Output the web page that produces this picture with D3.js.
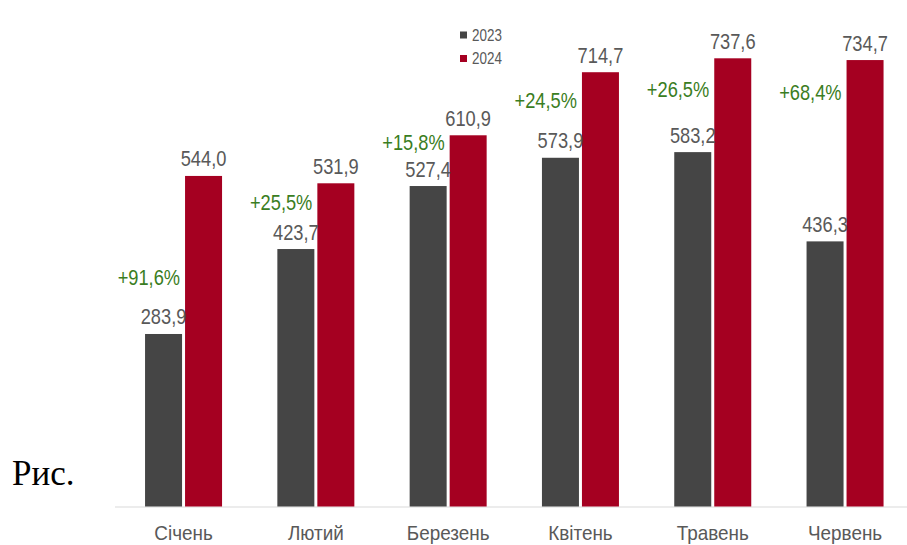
<!DOCTYPE html>
<html>
<head>
<meta charset="utf-8">
<script src="https://cdn.jsdelivr.net/npm/d3@7"></script>
<style>
  html, body { margin: 0; padding: 0; background: #fff; }
  svg { display: block; }
</style>
</head>
<body>
<svg id="chart" width="907" height="545"></svg>
<script>
// Monthly values, thousand units, first half of the year
const months = ["Січень", "Лютий", "Березень", "Квітень", "Травень", "Червень"];
const years = ["2023", "2024"];
const values2023 = [283.9, 423.7, 527.4, 573.9, 583.2, 436.3];
const values2024 = [544.0, 531.9, 610.9, 714.7, 737.6, 734.7];
// Year-over-year growth labels and the level (in chart units) where each sits
const growthLabels = ["+91,6%", "+25,5%", "+15,8%", "+24,5%", "+26,5%", "+68,4%"];
const growthLevel = [377, 500, 599, 668, 687, 681];

const colors = { "2023": "#454545", "2024": "#a50021" };
const fmt = v => v.toFixed(1).replace(".", ",");
const sans = "Liberation Sans, Arial, sans-serif";
const narrow = 0.83; // horizontal squeeze for a narrow-looking face

const svg = d3.select("#chart");
const baseY = 506.5;
const plotTop = 58.3;

const y = d3.scaleLinear().domain([0, 737.6]).range([baseY, plotTop]);

const x0 = d3.scaleBand()
  .domain(months)
  .range([117.4, 911.2])
  .paddingInner(0.418)
  .paddingOuter(0.209);

const x1 = d3.scaleBand()
  .domain(years)
  .range([0, x0.bandwidth()])
  .paddingInner(0.075);

const rows = months.map((m, i) => ({
  month: m,
  series: [
    { year: "2023", value: values2023[i] },
    { year: "2024", value: values2024[i] }
  ],
  growth: growthLabels[i],
  level: growthLevel[i]
}));

// Baseline and month names
svg.append("line")
  .attr("x1", 115).attr("x2", 907)
  .attr("y1", baseY + 0.5).attr("y2", baseY + 0.5)
  .attr("stroke", "#d9d9d9").attr("stroke-width", 1);

const xAxis = d3.axisBottom(x0).tickSize(0).tickPadding(0);
const axisG = svg.append("g")
  .attr("transform", `translate(0,${baseY})`)
  .call(xAxis);
axisG.select(".domain").remove();
axisG.selectAll(".tick text")
  .attr("y", 0).attr("dy", 0)
  .attr("transform", "translate(0,33) scale(0.9,1)")
  .attr("font-family", sans)
  .attr("font-size", 21)
  .attr("fill", "#595959");

// Bars
const groups = svg.append("g").selectAll("g")
  .data(rows).join("g")
  .attr("transform", d => `translate(${x0(d.month)},0)`);

groups.selectAll("rect")
  .data(d => d.series).join("rect")
  .attr("x", d => x1(d.year))
  .attr("width", x1.bandwidth())
  .attr("y", d => y(d.value))
  .attr("height", d => baseY - y(d.value))
  .attr("fill", d => colors[d.year]);

// Value labels above bars
groups.selectAll("text.val")
  .data(d => d.series).join("text")
  .attr("class", "val")
  .attr("transform", d =>
    `translate(${x1(d.year) + x1.bandwidth() / 2},${y(d.value) - 9.5}) scale(${narrow},1)`)
  .attr("text-anchor", "middle")
  .attr("font-family", sans)
  .attr("font-size", 22)
  .attr("fill", "#595959")
  .text(d => fmt(d.value));

// Growth percentages, placed left of the 2024 bar
groups.append("text")
  .attr("transform", d => `translate(${x1("2024") - 5},${y(d.level)}) scale(${narrow},1)`)
  .attr("dy", "0.35em")
  .attr("text-anchor", "end")
  .attr("font-family", sans)
  .attr("font-size", 22)
  .attr("fill", "#3a7d22")
  .text(d => d.growth);

// Legend
const legend = svg.append("g").attr("transform", "translate(460,0)");
years.forEach((yr, i) => {
  const ly = 35 + i * 23.5;
  legend.append("rect")
    .attr("x", 0).attr("y", ly - 3.5)
    .attr("width", 7).attr("height", 7)
    .attr("fill", colors[yr]);
  legend.append("text")
    .attr("transform", `translate(12,${ly}) scale(0.84,1)`)
    .attr("dy", "0.36em")
    .attr("font-family", sans)
    .attr("font-size", 16)
    .attr("fill", "#595959")
    .text(yr);
});

// Figure caption prefix
svg.append("text")
  .attr("x", 12).attr("y", 485)
  .attr("font-family", "Liberation Serif, Times New Roman, serif")
  .attr("font-size", 35)
  .attr("fill", "#000")
  .text("Рис.");
</script>
</body>
</html>
